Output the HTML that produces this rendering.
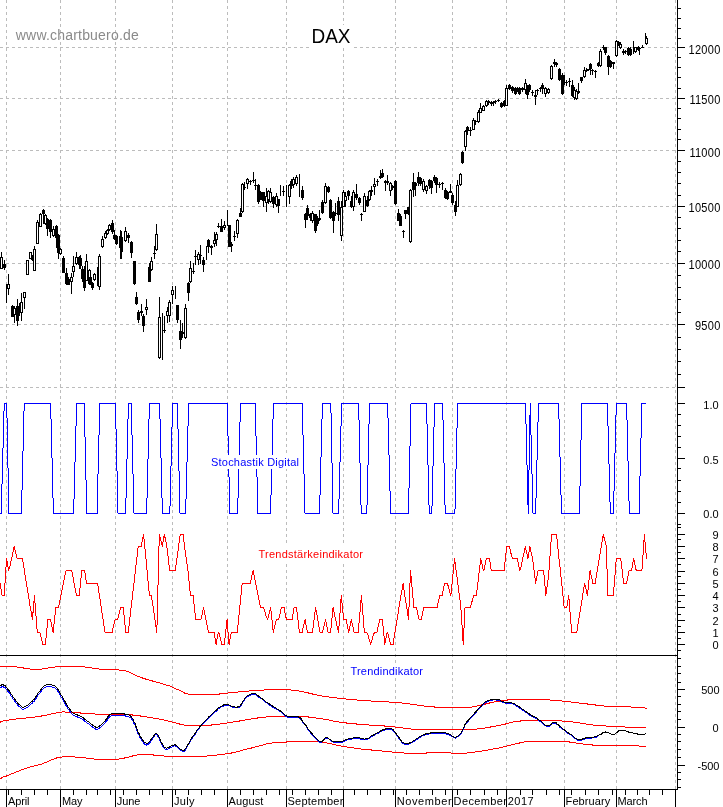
<!DOCTYPE html>
<html lang="de">
<head>
<meta charset="utf-8">
<title>DAX - www.chartbuero.de</title>
<style>
html, body { margin: 0; padding: 0; background: #ffffff; }
body { width: 723px; height: 807px; overflow: hidden; font-family: "Liberation Sans", Arial, sans-serif; }
svg { display: block; }
text { font-family: "Liberation Sans", Arial, sans-serif; }
</style>
</head>
<body>
<svg width="723" height="807" viewBox="0 0 723 807">
<rect x="0" y="0" width="723" height="807" fill="#ffffff"/>
<g class="grid" stroke-width="1" shape-rendering="crispEdges" fill="none">
<line x1="6.5" y1="0" x2="6.5" y2="789" stroke="#bcbcbc" stroke-dasharray="3 3"/>
<line x1="60.5" y1="0" x2="60.5" y2="789" stroke="#bcbcbc" stroke-dasharray="3 3"/>
<line x1="115.5" y1="0" x2="115.5" y2="789" stroke="#bcbcbc" stroke-dasharray="3 3"/>
<line x1="172.5" y1="0" x2="172.5" y2="789" stroke="#bcbcbc" stroke-dasharray="3 3"/>
<line x1="227.5" y1="0" x2="227.5" y2="789" stroke="#bcbcbc" stroke-dasharray="3 3"/>
<line x1="286.5" y1="0" x2="286.5" y2="789" stroke="#bcbcbc" stroke-dasharray="3 3"/>
<line x1="343.5" y1="0" x2="343.5" y2="789" stroke="#bcbcbc" stroke-dasharray="3 3"/>
<line x1="395.5" y1="0" x2="395.5" y2="789" stroke="#bcbcbc" stroke-dasharray="3 3"/>
<line x1="452.5" y1="0" x2="452.5" y2="789" stroke="#bcbcbc" stroke-dasharray="3 3"/>
<line x1="506.5" y1="0" x2="506.5" y2="789" stroke="#bcbcbc" stroke-dasharray="3 3"/>
<line x1="564.5" y1="0" x2="564.5" y2="789" stroke="#bcbcbc" stroke-dasharray="3 3"/>
<line x1="616.5" y1="0" x2="616.5" y2="789" stroke="#bcbcbc" stroke-dasharray="3 3"/>
<line x1="675.5" y1="0" x2="675.5" y2="789" stroke="#bcbcbc" stroke-dasharray="3 3"/>
<line x1="0" y1="47.5" x2="677" y2="47.5" stroke="#bcbcbc" stroke-dasharray="3 3"/>
<line x1="0" y1="98.5" x2="677" y2="98.5" stroke="#bcbcbc" stroke-dasharray="3 3"/>
<line x1="0" y1="150.5" x2="677" y2="150.5" stroke="#bcbcbc" stroke-dasharray="3 3"/>
<line x1="0" y1="206.5" x2="677" y2="206.5" stroke="#bcbcbc" stroke-dasharray="3 3"/>
<line x1="0" y1="263.5" x2="677" y2="263.5" stroke="#bcbcbc" stroke-dasharray="3 3"/>
<line x1="0" y1="324.5" x2="677" y2="324.5" stroke="#bcbcbc" stroke-dasharray="3 3"/>
<line x1="0" y1="387.5" x2="677" y2="387.5" stroke="#bcbcbc" stroke-dasharray="3 3"/>
</g>
<g class="candles" shape-rendering="crispEdges" stroke="#000" stroke-width="1">
<line x1="1.5" y1="252" x2="1.5" y2="269"/>
<rect x="0.5" y="257.5" width="2" height="11" fill="#fff"/>
<line x1="4.5" y1="260" x2="4.5" y2="270"/>
<rect x="3.5" y="264.5" width="2" height="3" fill="#000"/>
<line x1="6.5" y1="284" x2="6.5" y2="303"/>
<line x1="8.5" y1="274" x2="8.5" y2="295"/>
<rect x="7.5" y="284.5" width="2" height="4" fill="#fff"/>
<line x1="12.5" y1="305" x2="12.5" y2="317"/>
<rect x="11.5" y="306.5" width="2" height="10" fill="#000"/>
<line x1="14.5" y1="306" x2="14.5" y2="323"/>
<rect x="13.5" y="308.5" width="2" height="6" fill="#fff"/>
<line x1="17.5" y1="299" x2="17.5" y2="326"/>
<rect x="16.5" y="306.5" width="2" height="14" fill="#000"/>
<line x1="19.5" y1="303" x2="19.5" y2="316"/>
<rect x="18.5" y="307.5" width="2" height="5" fill="#000"/>
<line x1="21.5" y1="293" x2="21.5" y2="321"/>
<rect x="20.5" y="302.5" width="2" height="10" fill="#fff"/>
<line x1="24.5" y1="292" x2="24.5" y2="309"/>
<rect x="23.5" y="292.5" width="2" height="5" fill="#fff"/>
<line x1="27.5" y1="260" x2="27.5" y2="275"/>
<rect x="26.5" y="260.5" width="2" height="14" fill="#fff"/>
<line x1="30.5" y1="252" x2="30.5" y2="259"/>
<rect x="29.5" y="252.5" width="2" height="6" fill="#fff"/>
<line x1="32.5" y1="255" x2="32.5" y2="261"/>
<rect x="31.5" y="255.5" width="2" height="4" fill="#000"/>
<line x1="34.5" y1="246" x2="34.5" y2="271"/>
<rect x="33.5" y="249.5" width="2" height="21" fill="#fff"/>
<line x1="37.5" y1="220" x2="37.5" y2="244"/>
<rect x="36.5" y="222.5" width="2" height="21" fill="#fff"/>
<line x1="40.5" y1="213" x2="40.5" y2="227"/>
<rect x="39.5" y="214.5" width="2" height="12" fill="#fff"/>
<line x1="43.5" y1="209" x2="43.5" y2="224"/>
<rect x="42.5" y="210.5" width="2" height="3" fill="#000"/>
<line x1="45.5" y1="214" x2="45.5" y2="225"/>
<rect x="44.5" y="215.5" width="2" height="8" fill="#fff"/>
<line x1="47.5" y1="218" x2="47.5" y2="236"/>
<rect x="46.5" y="219.5" width="2" height="9" fill="#000"/>
<line x1="50.5" y1="219" x2="50.5" y2="238"/>
<rect x="49.5" y="220.5" width="2" height="11" fill="#000"/>
<line x1="53.5" y1="226" x2="53.5" y2="237"/>
<rect x="52.5" y="229.5" width="2" height="6" fill="#fff"/>
<line x1="56.5" y1="225" x2="56.5" y2="248"/>
<rect x="55.5" y="226.5" width="2" height="11" fill="#000"/>
<line x1="58.5" y1="234" x2="58.5" y2="259"/>
<rect x="57.5" y="235.5" width="2" height="17" fill="#000"/>
<line x1="60.5" y1="248" x2="60.5" y2="255"/>
<rect x="59.5" y="249.5" width="2" height="4" fill="#fff"/>
<line x1="63.5" y1="256" x2="63.5" y2="273"/>
<rect x="62.5" y="258.5" width="2" height="14" fill="#000"/>
<line x1="66.5" y1="268" x2="66.5" y2="285"/>
<rect x="65.5" y="273.5" width="2" height="10" fill="#000"/>
<line x1="68.5" y1="277" x2="68.5" y2="285"/>
<rect x="67.5" y="279.5" width="2" height="5" fill="#000"/>
<line x1="71.5" y1="273" x2="71.5" y2="294"/>
<rect x="70.5" y="277.5" width="2" height="4" fill="#fff"/>
<line x1="73.5" y1="256" x2="73.5" y2="277"/>
<rect x="72.5" y="266.5" width="2" height="5" fill="#fff"/>
<line x1="76.5" y1="252" x2="76.5" y2="265"/>
<rect x="75.5" y="257.5" width="2" height="6" fill="#fff"/>
<line x1="79.5" y1="256" x2="79.5" y2="269"/>
<rect x="78.5" y="257.5" width="2" height="7" fill="#000"/>
<line x1="80.5" y1="255" x2="80.5" y2="269"/>
<rect x="79.5" y="258.5" width="2" height="7" fill="#000"/>
<line x1="82.5" y1="266" x2="82.5" y2="282"/>
<rect x="81.5" y="269.5" width="2" height="9" fill="#000"/>
<line x1="84.5" y1="266" x2="84.5" y2="291"/>
<rect x="83.5" y="274.5" width="2" height="13" fill="#000"/>
<line x1="86.5" y1="254" x2="86.5" y2="281"/>
<rect x="85.5" y="261.5" width="2" height="19" fill="#fff"/>
<line x1="89.5" y1="269" x2="89.5" y2="285"/>
<rect x="88.5" y="270.5" width="2" height="13" fill="#fff"/>
<line x1="90.5" y1="276" x2="90.5" y2="285"/>
<rect x="89.5" y="277.5" width="2" height="6" fill="#000"/>
<line x1="92.5" y1="282" x2="92.5" y2="290"/>
<rect x="91.5" y="283.5" width="2" height="4" fill="#000"/>
<line x1="94.5" y1="273" x2="94.5" y2="281"/>
<rect x="93.5" y="274.5" width="2" height="5" fill="#fff"/>
<line x1="97.5" y1="267" x2="97.5" y2="286"/>
<line x1="99.5" y1="254" x2="99.5" y2="290"/>
<rect x="98.5" y="256.5" width="2" height="30" fill="#fff"/>
<line x1="102.5" y1="236" x2="102.5" y2="248"/>
<rect x="101.5" y="239.5" width="2" height="7" fill="#fff"/>
<line x1="105.5" y1="231" x2="105.5" y2="239"/>
<rect x="104.5" y="233.5" width="2" height="4" fill="#fff"/>
<line x1="107.5" y1="229" x2="107.5" y2="235"/>
<rect x="106.5" y="230.5" width="2" height="3" fill="#fff"/>
<line x1="109.5" y1="224" x2="109.5" y2="231"/>
<rect x="108.5" y="225.5" width="2" height="4" fill="#fff"/>
<line x1="112.5" y1="220" x2="112.5" y2="234"/>
<rect x="111.5" y="223.5" width="2" height="8" fill="#000"/>
<line x1="114.5" y1="230" x2="114.5" y2="240"/>
<rect x="113.5" y="235.5" width="2" height="3" fill="#000"/>
<line x1="116.5" y1="235" x2="116.5" y2="245"/>
<rect x="115.5" y="236.5" width="2" height="7" fill="#000"/>
<line x1="120.5" y1="230" x2="120.5" y2="259"/>
<rect x="119.5" y="236.5" width="2" height="11" fill="#000"/>
<line x1="121.5" y1="231" x2="121.5" y2="259"/>
<rect x="120.5" y="237.5" width="2" height="14" fill="#000"/>
<line x1="125.5" y1="227" x2="125.5" y2="242"/>
<rect x="124.5" y="231.5" width="2" height="9" fill="#fff"/>
<line x1="128.5" y1="233" x2="128.5" y2="243"/>
<rect x="127.5" y="235.5" width="2" height="2" fill="#000"/>
<line x1="131.5" y1="241" x2="131.5" y2="258"/>
<rect x="130.5" y="242.5" width="2" height="10" fill="#000"/>
<line x1="134.5" y1="261" x2="134.5" y2="285"/>
<rect x="133.5" y="261.5" width="2" height="22" fill="#000"/>
<line x1="136.5" y1="292" x2="136.5" y2="305"/>
<rect x="135.5" y="297.5" width="2" height="6" fill="#000"/>
<line x1="138.5" y1="310" x2="138.5" y2="323"/>
<rect x="137.5" y="312.5" width="2" height="7" fill="#000"/>
<line x1="141.5" y1="304" x2="141.5" y2="316"/>
<rect x="140.5" y="311.5" width="2" height="1" fill="#fff"/>
<line x1="143.5" y1="314" x2="143.5" y2="332"/>
<rect x="142.5" y="316.5" width="2" height="9" fill="#000"/>
<line x1="146.5" y1="299" x2="146.5" y2="315"/>
<rect x="145.5" y="307.5" width="2" height="2" fill="#fff"/>
<line x1="149.5" y1="263" x2="149.5" y2="282"/>
<rect x="148.5" y="267.5" width="2" height="14" fill="#000"/>
<line x1="151.5" y1="257" x2="151.5" y2="271"/>
<rect x="150.5" y="261.5" width="2" height="8" fill="#fff"/>
<line x1="154.5" y1="246" x2="154.5" y2="259"/>
<rect x="153.5" y="253.5" width="2" height="0.01" fill="#000"/>
<line x1="156.5" y1="224" x2="156.5" y2="251"/>
<rect x="155.5" y="234.5" width="2" height="15" fill="#fff"/>
<line x1="159.5" y1="297" x2="159.5" y2="359"/>
<rect x="158.5" y="317.5" width="2" height="40" fill="#fff"/>
<line x1="162.5" y1="313" x2="162.5" y2="360"/>
<line x1="164.5" y1="316" x2="164.5" y2="333"/>
<rect x="163.5" y="330.5" width="2" height="0.01" fill="#000"/>
<line x1="167.5" y1="307" x2="167.5" y2="323"/>
<rect x="166.5" y="311.5" width="2" height="4" fill="#fff"/>
<line x1="169.5" y1="300" x2="169.5" y2="322"/>
<rect x="168.5" y="302.5" width="2" height="13" fill="#fff"/>
<line x1="172.5" y1="286" x2="172.5" y2="304"/>
<rect x="171.5" y="290.5" width="2" height="4" fill="#fff"/>
<line x1="175.5" y1="286" x2="175.5" y2="299"/>
<line x1="177.5" y1="305" x2="177.5" y2="323"/>
<rect x="176.5" y="305.5" width="2" height="14" fill="#000"/>
<line x1="180.5" y1="320" x2="180.5" y2="349"/>
<rect x="179.5" y="331.5" width="2" height="8" fill="#000"/>
<line x1="182.5" y1="323" x2="182.5" y2="338"/>
<rect x="181.5" y="332.5" width="2" height="1" fill="#000"/>
<line x1="185.5" y1="304" x2="185.5" y2="339"/>
<rect x="184.5" y="308.5" width="2" height="29" fill="#fff"/>
<line x1="188.5" y1="282" x2="188.5" y2="301"/>
<rect x="187.5" y="283.5" width="2" height="9" fill="#000"/>
<line x1="190.5" y1="261" x2="190.5" y2="283"/>
<rect x="189.5" y="268.5" width="2" height="13" fill="#fff"/>
<line x1="193.5" y1="263" x2="193.5" y2="274"/>
<rect x="192.5" y="271.5" width="2" height="0.01" fill="#000"/>
<line x1="195.5" y1="250" x2="195.5" y2="265"/>
<rect x="194.5" y="256.5" width="2" height="0.01" fill="#000"/>
<line x1="198.5" y1="252" x2="198.5" y2="265"/>
<rect x="197.5" y="254.5" width="2" height="5" fill="#fff"/>
<line x1="200.5" y1="245" x2="200.5" y2="264"/>
<rect x="199.5" y="255.5" width="2" height="0.01" fill="#000"/>
<line x1="203.5" y1="257" x2="203.5" y2="272"/>
<rect x="202.5" y="260.5" width="2" height="4" fill="#000"/>
<line x1="206.5" y1="246" x2="206.5" y2="260"/>
<line x1="208.5" y1="239" x2="208.5" y2="253"/>
<rect x="207.5" y="240.5" width="2" height="6" fill="#000"/>
<line x1="211.5" y1="245" x2="211.5" y2="255"/>
<rect x="210.5" y="246.5" width="2" height="1" fill="#fff"/>
<line x1="214.5" y1="232" x2="214.5" y2="247"/>
<rect x="213.5" y="240.5" width="2" height="3" fill="#fff"/>
<line x1="216.5" y1="232" x2="216.5" y2="246"/>
<rect x="215.5" y="234.5" width="2" height="5" fill="#fff"/>
<line x1="218.5" y1="223" x2="218.5" y2="228"/>
<rect x="217.5" y="226.5" width="2" height="0.01" fill="#000"/>
<line x1="221.5" y1="219" x2="221.5" y2="232"/>
<rect x="220.5" y="226.5" width="2" height="5" fill="#000"/>
<line x1="224.5" y1="221" x2="224.5" y2="230"/>
<rect x="223.5" y="225.5" width="2" height="2" fill="#fff"/>
<line x1="227.5" y1="210" x2="227.5" y2="226"/>
<line x1="229.5" y1="225" x2="229.5" y2="247"/>
<rect x="228.5" y="225.5" width="2" height="21" fill="#000"/>
<line x1="231.5" y1="242" x2="231.5" y2="252"/>
<rect x="230.5" y="244.5" width="2" height="1" fill="#fff"/>
<line x1="234.5" y1="231" x2="234.5" y2="241"/>
<rect x="233.5" y="236.5" width="2" height="0.01" fill="#000"/>
<line x1="237.5" y1="219" x2="237.5" y2="238"/>
<rect x="236.5" y="220.5" width="2" height="13" fill="#fff"/>
<line x1="240.5" y1="208" x2="240.5" y2="217"/>
<rect x="239.5" y="213.5" width="2" height="3" fill="#000"/>
<line x1="242.5" y1="183" x2="242.5" y2="213"/>
<rect x="241.5" y="184.5" width="2" height="27" fill="#fff"/>
<line x1="244.5" y1="182" x2="244.5" y2="190"/>
<rect x="243.5" y="187.5" width="2" height="0.01" fill="#000"/>
<line x1="247.5" y1="178" x2="247.5" y2="189"/>
<rect x="246.5" y="179.5" width="2" height="4" fill="#fff"/>
<line x1="250.5" y1="180" x2="250.5" y2="185"/>
<rect x="249.5" y="181.5" width="2" height="0.01" fill="#000"/>
<line x1="253.5" y1="172" x2="253.5" y2="183"/>
<rect x="252.5" y="180.5" width="2" height="0.01" fill="#000"/>
<line x1="255.5" y1="179" x2="255.5" y2="190"/>
<rect x="254.5" y="185.5" width="2" height="0.01" fill="#000"/>
<line x1="258.5" y1="184" x2="258.5" y2="204"/>
<rect x="257.5" y="185.5" width="2" height="16" fill="#000"/>
<line x1="260.5" y1="191" x2="260.5" y2="200"/>
<rect x="259.5" y="192.5" width="2" height="7" fill="#000"/>
<line x1="263.5" y1="192" x2="263.5" y2="207"/>
<rect x="262.5" y="192.5" width="2" height="8" fill="#000"/>
<line x1="266.5" y1="188" x2="266.5" y2="212"/>
<rect x="265.5" y="196.5" width="2" height="6" fill="#fff"/>
<line x1="268.5" y1="190" x2="268.5" y2="204"/>
<rect x="267.5" y="191.5" width="2" height="8" fill="#fff"/>
<line x1="270.5" y1="188" x2="270.5" y2="203"/>
<rect x="269.5" y="192.5" width="2" height="9" fill="#fff"/>
<line x1="273.5" y1="196" x2="273.5" y2="208"/>
<rect x="272.5" y="197.5" width="2" height="6" fill="#000"/>
<line x1="276.5" y1="193" x2="276.5" y2="207"/>
<rect x="275.5" y="196.5" width="2" height="8" fill="#fff"/>
<line x1="278.5" y1="199" x2="278.5" y2="213"/>
<rect x="277.5" y="199.5" width="2" height="6" fill="#000"/>
<line x1="280.5" y1="185" x2="280.5" y2="196"/>
<line x1="283.5" y1="186" x2="283.5" y2="196"/>
<rect x="282.5" y="191.5" width="2" height="0.01" fill="#000"/>
<line x1="286.5" y1="185" x2="286.5" y2="207"/>
<line x1="289.5" y1="184" x2="289.5" y2="204"/>
<rect x="288.5" y="185.5" width="2" height="11" fill="#fff"/>
<line x1="291.5" y1="179" x2="291.5" y2="189"/>
<rect x="290.5" y="181.5" width="2" height="4" fill="#000"/>
<line x1="293.5" y1="177" x2="293.5" y2="188"/>
<rect x="292.5" y="179.5" width="2" height="5" fill="#fff"/>
<line x1="296.5" y1="175" x2="296.5" y2="186"/>
<rect x="295.5" y="177.5" width="2" height="6" fill="#fff"/>
<line x1="299.5" y1="174" x2="299.5" y2="197"/>
<line x1="302.5" y1="186" x2="302.5" y2="200"/>
<rect x="301.5" y="190.5" width="2" height="7" fill="#000"/>
<line x1="305.5" y1="213" x2="305.5" y2="228"/>
<rect x="304.5" y="214.5" width="2" height="5" fill="#000"/>
<line x1="307.5" y1="205" x2="307.5" y2="220"/>
<rect x="306.5" y="208.5" width="2" height="7" fill="#000"/>
<line x1="310.5" y1="213" x2="310.5" y2="221"/>
<rect x="309.5" y="214.5" width="2" height="3" fill="#000"/>
<line x1="312.5" y1="211" x2="312.5" y2="223"/>
<rect x="311.5" y="213.5" width="2" height="7" fill="#fff"/>
<line x1="315.5" y1="214" x2="315.5" y2="233"/>
<rect x="314.5" y="214.5" width="2" height="16" fill="#000"/>
<line x1="317.5" y1="216" x2="317.5" y2="226"/>
<rect x="316.5" y="218.5" width="2" height="5" fill="#000"/>
<line x1="319.5" y1="210" x2="319.5" y2="221"/>
<rect x="318.5" y="218.5" width="2" height="1" fill="#000"/>
<line x1="322.5" y1="200" x2="322.5" y2="214"/>
<rect x="321.5" y="202.5" width="2" height="10" fill="#000"/>
<line x1="325.5" y1="183" x2="325.5" y2="204"/>
<rect x="324.5" y="186.5" width="2" height="16" fill="#fff"/>
<line x1="328.5" y1="186" x2="328.5" y2="193"/>
<rect x="327.5" y="187.5" width="2" height="4" fill="#000"/>
<line x1="330.5" y1="199" x2="330.5" y2="219"/>
<rect x="329.5" y="200.5" width="2" height="17" fill="#000"/>
<line x1="333.5" y1="211" x2="333.5" y2="233"/>
<rect x="332.5" y="212.5" width="2" height="8" fill="#000"/>
<line x1="335.5" y1="203" x2="335.5" y2="216"/>
<rect x="334.5" y="213.5" width="2" height="0.01" fill="#fff"/>
<line x1="338.5" y1="197" x2="338.5" y2="221"/>
<rect x="337.5" y="201.5" width="2" height="13" fill="#000"/>
<line x1="341.5" y1="201" x2="341.5" y2="241"/>
<rect x="340.5" y="207.5" width="2" height="28" fill="#fff"/>
<line x1="343.5" y1="190" x2="343.5" y2="207"/>
<rect x="342.5" y="192.5" width="2" height="14" fill="#fff"/>
<line x1="345.5" y1="192" x2="345.5" y2="207"/>
<rect x="344.5" y="196.5" width="2" height="4" fill="#fff"/>
<line x1="348.5" y1="190" x2="348.5" y2="200"/>
<rect x="347.5" y="191.5" width="2" height="4" fill="#000"/>
<line x1="351.5" y1="196" x2="351.5" y2="208"/>
<rect x="350.5" y="201.5" width="2" height="5" fill="#000"/>
<line x1="353.5" y1="190" x2="353.5" y2="211"/>
<rect x="352.5" y="192.5" width="2" height="14" fill="#fff"/>
<line x1="356.5" y1="184" x2="356.5" y2="200"/>
<rect x="355.5" y="194.5" width="2" height="3" fill="#000"/>
<line x1="359.5" y1="197" x2="359.5" y2="205"/>
<rect x="358.5" y="198.5" width="2" height="4" fill="#000"/>
<line x1="361.5" y1="213" x2="361.5" y2="221"/>
<rect x="360.5" y="214.5" width="2" height="0.01" fill="#000"/>
<line x1="364.5" y1="193" x2="364.5" y2="212"/>
<rect x="363.5" y="196.5" width="2" height="15" fill="#fff"/>
<line x1="367.5" y1="196" x2="367.5" y2="207"/>
<rect x="366.5" y="200.5" width="2" height="5" fill="#000"/>
<line x1="369.5" y1="190" x2="369.5" y2="201"/>
<rect x="368.5" y="191.5" width="2" height="8" fill="#fff"/>
<line x1="371.5" y1="186" x2="371.5" y2="196"/>
<rect x="370.5" y="190.5" width="2" height="1" fill="#fff"/>
<line x1="374.5" y1="178" x2="374.5" y2="195"/>
<rect x="373.5" y="184.5" width="2" height="2" fill="#fff"/>
<line x1="377.5" y1="179" x2="377.5" y2="186"/>
<rect x="376.5" y="181.5" width="2" height="0.01" fill="#000"/>
<line x1="380.5" y1="170" x2="380.5" y2="179"/>
<rect x="379.5" y="176.5" width="2" height="1" fill="#000"/>
<line x1="382.5" y1="169" x2="382.5" y2="178"/>
<rect x="381.5" y="173.5" width="2" height="3" fill="#000"/>
<line x1="385.5" y1="180" x2="385.5" y2="191"/>
<rect x="384.5" y="181.5" width="2" height="1" fill="#000"/>
<line x1="387.5" y1="175" x2="387.5" y2="185"/>
<rect x="386.5" y="181.5" width="2" height="1" fill="#fff"/>
<line x1="390.5" y1="182" x2="390.5" y2="196"/>
<rect x="389.5" y="183.5" width="2" height="7" fill="#fff"/>
<line x1="392.5" y1="185" x2="392.5" y2="190"/>
<rect x="391.5" y="186.5" width="2" height="1" fill="#000"/>
<line x1="395.5" y1="180" x2="395.5" y2="205"/>
<rect x="394.5" y="181.5" width="2" height="22" fill="#000"/>
<line x1="398.5" y1="209" x2="398.5" y2="221"/>
<rect x="397.5" y="213.5" width="2" height="7" fill="#000"/>
<line x1="400.5" y1="214" x2="400.5" y2="226"/>
<rect x="399.5" y="216.5" width="2" height="9" fill="#000"/>
<line x1="403.5" y1="230" x2="403.5" y2="238"/>
<rect x="402.5" y="231.5" width="2" height="0.01" fill="#000"/>
<line x1="405.5" y1="210" x2="405.5" y2="219"/>
<rect x="404.5" y="210.5" width="2" height="3" fill="#000"/>
<line x1="408.5" y1="207" x2="408.5" y2="215"/>
<rect x="407.5" y="207.5" width="2" height="6" fill="#000"/>
<line x1="410.5" y1="189" x2="410.5" y2="243"/>
<rect x="409.5" y="190.5" width="2" height="51" fill="#fff"/>
<line x1="413.5" y1="173" x2="413.5" y2="197"/>
<rect x="412.5" y="182.5" width="2" height="7" fill="#000"/>
<line x1="415.5" y1="182" x2="415.5" y2="196"/>
<rect x="414.5" y="183.5" width="2" height="2" fill="#000"/>
<line x1="418.5" y1="172" x2="418.5" y2="186"/>
<rect x="417.5" y="177.5" width="2" height="5" fill="#000"/>
<line x1="420.5" y1="177" x2="420.5" y2="186"/>
<rect x="419.5" y="178.5" width="2" height="5" fill="#000"/>
<line x1="423.5" y1="179" x2="423.5" y2="192"/>
<rect x="422.5" y="181.5" width="2" height="8" fill="#fff"/>
<line x1="426.5" y1="185" x2="426.5" y2="194"/>
<rect x="425.5" y="186.5" width="2" height="4" fill="#fff"/>
<line x1="429.5" y1="179" x2="429.5" y2="189"/>
<rect x="428.5" y="180.5" width="2" height="5" fill="#000"/>
<line x1="431.5" y1="180" x2="431.5" y2="194"/>
<rect x="430.5" y="181.5" width="2" height="6" fill="#000"/>
<line x1="434.5" y1="175" x2="434.5" y2="183"/>
<rect x="433.5" y="177.5" width="2" height="3" fill="#000"/>
<line x1="436.5" y1="177" x2="436.5" y2="193"/>
<rect x="435.5" y="178.5" width="2" height="6" fill="#000"/>
<line x1="439.5" y1="182" x2="439.5" y2="188"/>
<rect x="438.5" y="184.5" width="2" height="0.01" fill="#000"/>
<line x1="442.5" y1="182" x2="442.5" y2="190"/>
<rect x="441.5" y="183.5" width="2" height="0.01" fill="#000"/>
<line x1="445.5" y1="188" x2="445.5" y2="199"/>
<rect x="444.5" y="190.5" width="2" height="7" fill="#000"/>
<line x1="447.5" y1="191" x2="447.5" y2="200"/>
<rect x="446.5" y="192.5" width="2" height="6" fill="#000"/>
<line x1="450.5" y1="184" x2="450.5" y2="193"/>
<rect x="449.5" y="191.5" width="2" height="1" fill="#000"/>
<line x1="452.5" y1="193" x2="452.5" y2="205"/>
<rect x="451.5" y="195.5" width="2" height="7" fill="#000"/>
<line x1="455.5" y1="201" x2="455.5" y2="216"/>
<rect x="454.5" y="205.5" width="2" height="6" fill="#000"/>
<line x1="457.5" y1="180" x2="457.5" y2="207"/>
<rect x="456.5" y="185.5" width="2" height="21" fill="#fff"/>
<line x1="460.5" y1="173" x2="460.5" y2="186"/>
<rect x="459.5" y="174.5" width="2" height="10" fill="#fff"/>
<line x1="462.5" y1="151" x2="462.5" y2="164"/>
<rect x="461.5" y="152.5" width="2" height="10" fill="#000"/>
<line x1="465.5" y1="130" x2="465.5" y2="151"/>
<rect x="464.5" y="131.5" width="2" height="15" fill="#fff"/>
<line x1="467.5" y1="126" x2="467.5" y2="135"/>
<rect x="466.5" y="127.5" width="2" height="3" fill="#000"/>
<line x1="470.5" y1="127" x2="470.5" y2="136"/>
<rect x="469.5" y="130.5" width="2" height="0.01" fill="#000"/>
<line x1="473.5" y1="118" x2="473.5" y2="130"/>
<rect x="472.5" y="120.5" width="2" height="9" fill="#fff"/>
<line x1="475.5" y1="120" x2="475.5" y2="125"/>
<rect x="474.5" y="121.5" width="2" height="0.01" fill="#000"/>
<line x1="478.5" y1="110" x2="478.5" y2="123"/>
<rect x="477.5" y="112.5" width="2" height="9" fill="#fff"/>
<line x1="480.5" y1="103" x2="480.5" y2="113"/>
<rect x="479.5" y="108.5" width="2" height="4" fill="#fff"/>
<line x1="483.5" y1="105" x2="483.5" y2="111"/>
<rect x="482.5" y="106.5" width="2" height="4" fill="#fff"/>
<line x1="486.5" y1="100" x2="486.5" y2="107"/>
<rect x="485.5" y="101.5" width="2" height="4" fill="#fff"/>
<line x1="488.5" y1="100" x2="488.5" y2="105"/>
<rect x="487.5" y="101.5" width="2" height="1" fill="#000"/>
<line x1="491.5" y1="101" x2="491.5" y2="106"/>
<rect x="490.5" y="102.5" width="2" height="1" fill="#fff"/>
<line x1="493.5" y1="101" x2="493.5" y2="106"/>
<rect x="492.5" y="102.5" width="2" height="0.01" fill="#000"/>
<line x1="495.5" y1="100" x2="495.5" y2="104"/>
<rect x="494.5" y="101.5" width="2" height="0.01" fill="#000"/>
<line x1="498.5" y1="99" x2="498.5" y2="102"/>
<rect x="497.5" y="100.5" width="2" height="0.01" fill="#fff"/>
<line x1="501.5" y1="102" x2="501.5" y2="108"/>
<rect x="500.5" y="103.5" width="2" height="3" fill="#000"/>
<line x1="504.5" y1="100" x2="504.5" y2="107"/>
<rect x="503.5" y="101.5" width="2" height="4" fill="#000"/>
<line x1="506.5" y1="85" x2="506.5" y2="106"/>
<rect x="505.5" y="88.5" width="2" height="17" fill="#fff"/>
<line x1="509.5" y1="84" x2="509.5" y2="90"/>
<rect x="508.5" y="85.5" width="2" height="3" fill="#000"/>
<line x1="512.5" y1="86" x2="512.5" y2="93"/>
<rect x="511.5" y="87.5" width="2" height="3" fill="#000"/>
<line x1="515.5" y1="87" x2="515.5" y2="95"/>
<rect x="514.5" y="88.5" width="2" height="5" fill="#000"/>
<line x1="517.5" y1="87" x2="517.5" y2="92"/>
<rect x="516.5" y="88.5" width="2" height="0.01" fill="#000"/>
<line x1="519.5" y1="87" x2="519.5" y2="95"/>
<rect x="518.5" y="88.5" width="2" height="5" fill="#000"/>
<line x1="522.5" y1="87" x2="522.5" y2="92"/>
<rect x="521.5" y="88.5" width="2" height="1" fill="#000"/>
<line x1="525.5" y1="79" x2="525.5" y2="94"/>
<rect x="524.5" y="83.5" width="2" height="6" fill="#fff"/>
<line x1="527.5" y1="85" x2="527.5" y2="99"/>
<rect x="526.5" y="87.5" width="2" height="7" fill="#000"/>
<line x1="529.5" y1="84" x2="529.5" y2="92"/>
<rect x="528.5" y="85.5" width="2" height="4" fill="#000"/>
<line x1="532.5" y1="90" x2="532.5" y2="96"/>
<rect x="531.5" y="92.5" width="2" height="0.01" fill="#000"/>
<line x1="535.5" y1="90" x2="535.5" y2="105"/>
<rect x="534.5" y="95.5" width="2" height="1" fill="#fff"/>
<line x1="537.5" y1="89" x2="537.5" y2="95"/>
<rect x="536.5" y="90.5" width="2" height="0.01" fill="#000"/>
<line x1="540.5" y1="87" x2="540.5" y2="92"/>
<rect x="539.5" y="88.5" width="2" height="0.01" fill="#000"/>
<line x1="542.5" y1="83" x2="542.5" y2="94"/>
<rect x="541.5" y="85.5" width="2" height="3" fill="#000"/>
<line x1="545.5" y1="87" x2="545.5" y2="97"/>
<rect x="544.5" y="88.5" width="2" height="5" fill="#fff"/>
<line x1="548.5" y1="88" x2="548.5" y2="94"/>
<rect x="547.5" y="89.5" width="2" height="3" fill="#fff"/>
<line x1="551.5" y1="65" x2="551.5" y2="80"/>
<rect x="550.5" y="66.5" width="2" height="12" fill="#fff"/>
<line x1="554.5" y1="59" x2="554.5" y2="67"/>
<rect x="553.5" y="62.5" width="2" height="1" fill="#000"/>
<line x1="556.5" y1="62" x2="556.5" y2="67"/>
<rect x="555.5" y="63.5" width="2" height="1" fill="#000"/>
<line x1="559.5" y1="68" x2="559.5" y2="81"/>
<rect x="558.5" y="69.5" width="2" height="10" fill="#000"/>
<line x1="562.5" y1="73" x2="562.5" y2="95"/>
<rect x="561.5" y="75.5" width="2" height="18" fill="#000"/>
<line x1="564.5" y1="75" x2="564.5" y2="85"/>
<rect x="563.5" y="82.5" width="2" height="0.01" fill="#000"/>
<line x1="566.5" y1="80" x2="566.5" y2="86"/>
<rect x="565.5" y="82.5" width="2" height="0.01" fill="#fff"/>
<line x1="569.5" y1="78" x2="569.5" y2="87"/>
<rect x="568.5" y="81.5" width="2" height="0.01" fill="#fff"/>
<line x1="572.5" y1="80" x2="572.5" y2="97"/>
<rect x="571.5" y="85.5" width="2" height="10" fill="#000"/>
<line x1="574.5" y1="87" x2="574.5" y2="100"/>
<rect x="573.5" y="90.5" width="2" height="7" fill="#fff"/>
<line x1="576.5" y1="89" x2="576.5" y2="100"/>
<rect x="575.5" y="91.5" width="2" height="7" fill="#fff"/>
<line x1="578.5" y1="83" x2="578.5" y2="94"/>
<rect x="577.5" y="91.5" width="2" height="1" fill="#000"/>
<line x1="581.5" y1="77" x2="581.5" y2="83"/>
<rect x="580.5" y="77.5" width="2" height="3" fill="#000"/>
<line x1="584.5" y1="67" x2="584.5" y2="78"/>
<rect x="583.5" y="70.5" width="2" height="6" fill="#fff"/>
<line x1="586.5" y1="68" x2="586.5" y2="72"/>
<rect x="585.5" y="70.5" width="2" height="0.01" fill="#000"/>
<line x1="588.5" y1="69" x2="588.5" y2="71"/>
<rect x="587.5" y="69.5" width="2" height="0.01" fill="#fff"/>
<line x1="590.5" y1="63" x2="590.5" y2="75"/>
<rect x="589.5" y="64.5" width="2" height="4" fill="#000"/>
<line x1="592.5" y1="69" x2="592.5" y2="75"/>
<rect x="591.5" y="70.5" width="2" height="0.01" fill="#000"/>
<line x1="595.5" y1="70" x2="595.5" y2="78"/>
<rect x="594.5" y="71.5" width="2" height="0.01" fill="#000"/>
<line x1="598.5" y1="62" x2="598.5" y2="67"/>
<rect x="597.5" y="63.5" width="2" height="2" fill="#000"/>
<line x1="600.5" y1="49" x2="600.5" y2="67"/>
<rect x="599.5" y="51.5" width="2" height="14" fill="#fff"/>
<line x1="603.5" y1="45" x2="603.5" y2="50"/>
<rect x="602.5" y="47.5" width="2" height="0.01" fill="#000"/>
<line x1="605.5" y1="47" x2="605.5" y2="55"/>
<rect x="604.5" y="47.5" width="2" height="5" fill="#000"/>
<line x1="608.5" y1="55" x2="608.5" y2="75"/>
<rect x="607.5" y="56.5" width="2" height="10" fill="#000"/>
<line x1="610.5" y1="60" x2="610.5" y2="68"/>
<rect x="609.5" y="61.5" width="2" height="5" fill="#000"/>
<line x1="613.5" y1="62" x2="613.5" y2="69"/>
<rect x="612.5" y="62.5" width="2" height="1" fill="#000"/>
<line x1="616.5" y1="40" x2="616.5" y2="57"/>
<rect x="615.5" y="41.5" width="2" height="14" fill="#fff"/>
<line x1="618.5" y1="41" x2="618.5" y2="46"/>
<rect x="617.5" y="42.5" width="2" height="1" fill="#fff"/>
<line x1="620.5" y1="42" x2="620.5" y2="49"/>
<rect x="619.5" y="44.5" width="2" height="3" fill="#fff"/>
<line x1="623.5" y1="49" x2="623.5" y2="55"/>
<rect x="622.5" y="51.5" width="2" height="1" fill="#000"/>
<line x1="625.5" y1="50" x2="625.5" y2="54"/>
<rect x="624.5" y="51.5" width="2" height="0.01" fill="#000"/>
<line x1="628.5" y1="47" x2="628.5" y2="56"/>
<rect x="627.5" y="48.5" width="2" height="6" fill="#000"/>
<line x1="630.5" y1="47" x2="630.5" y2="56"/>
<rect x="629.5" y="49.5" width="2" height="5" fill="#000"/>
<line x1="633.5" y1="41" x2="633.5" y2="54"/>
<line x1="635.5" y1="47" x2="635.5" y2="53"/>
<rect x="634.5" y="47.5" width="2" height="4" fill="#fff"/>
<line x1="638.5" y1="46" x2="638.5" y2="51"/>
<rect x="637.5" y="47.5" width="2" height="2" fill="#fff"/>
<line x1="639.5" y1="47" x2="639.5" y2="55"/>
<rect x="638.5" y="48.5" width="2" height="0.01" fill="#000"/>
<line x1="642.5" y1="45" x2="642.5" y2="48"/>
<rect x="641.5" y="47.5" width="2" height="0.01" fill="#fff"/>
<line x1="645.5" y1="33" x2="645.5" y2="42"/>
<line x1="646.5" y1="36" x2="646.5" y2="45"/>
<rect x="645.5" y="38.5" width="2" height="5" fill="#fff"/>
</g>
<path d="M5 403.5h1M24 403.5h27M77 403.5h7M100 403.5h15M129 403.5h2M150 403.5h9M173 403.5h4M188 403.5h40M241 403.5h14M273 403.5h29M323 403.5h7M342 403.5h17M370 403.5h18M411 403.5h15M435 403.5h7M457 403.5h69M538 403.5h21M582 403.5h26M617 403.5h9M642 403.5h4M0 513.5h1M9 513.5h12M53 513.5h21M87 513.5h10M118 513.5h7M134 513.5h12M163 513.5h7M180 513.5h5M230 513.5h7M258 513.5h12M305 513.5h14M333 513.5h5M362 513.5h4M391 513.5h17M430 513.5h1M445 513.5h10M533 513.5h2M561 513.5h18M611 513.5h2M630 513.5h9M1.5 484v30M2.5 448v36M3.5 411v37M4.5 403v8M6.5 403v15M7.5 418v50M8.5 468v46M21.5 490v24M22.5 451v39M23.5 411v40M24.5 404v7M50.5 404v15M51.5 419v39M52.5 458v40M53.5 498v15M73.5 499v14M74.5 462v37M75.5 426v36M76.5 403v23M84.5 403v34M85.5 437v43M86.5 480v34M97.5 474v40M98.5 435v39M99.5 403v32M115.5 403v26M116.5 429v42M117.5 471v42M125.5 498v16M126.5 459v39M127.5 419v40M128.5 403v16M131.5 403v32M132.5 435v39M133.5 474v39M146.5 498v16M147.5 459v39M148.5 419v40M149.5 403v16M159.5 403v16M160.5 419v39M161.5 458v40M162.5 498v16M169.5 506v7M170.5 466v40M171.5 427v39M172.5 403v24M177.5 403v26M178.5 429v42M179.5 471v42M185.5 499v15M186.5 462v37M187.5 426v36M188.5 404v22M227.5 404v32M228.5 436v41M229.5 477v37M237.5 498v16M238.5 460v38M239.5 422v38M240.5 403v19M255.5 403v33M256.5 436v41M257.5 477v37M270.5 495v19M271.5 457v38M272.5 419v38M273.5 404v15M302.5 403v32M303.5 435v39M304.5 474v39M319.5 495v19M320.5 457v38M321.5 419v38M322.5 403v16M330.5 403v10M331.5 413v50M332.5 463v50M338.5 499v15M339.5 462v37M340.5 426v36M341.5 403v23M358.5 404v16M359.5 420v43M360.5 463v42M361.5 505v9M366.5 505v9M367.5 465v40M368.5 424v41M369.5 403v21M387.5 404v14M388.5 418v37M389.5 455v36M390.5 491v23M408.5 488v26M409.5 446v42M410.5 404v42M426.5 403v21M427.5 424v41M428.5 465v40M429.5 505v9M431.5 506v8M432.5 466v40M433.5 427v39M434.5 403v24M442.5 403v17M443.5 420v43M444.5 463v42M445.5 505v8M454.5 509v4M455.5 469v40M456.5 428v41M457.5 404v24M525.5 404v20M526.5 424v41M527.5 465v40M528.5 470v44M529.5 415v55M530.5 403v32M531.5 435v39M532.5 474v39M535.5 498v16M536.5 460v38M537.5 422v38M538.5 404v18M558.5 404v15M559.5 419v38M560.5 457v38M561.5 495v18M579.5 486v28M580.5 440v46M581.5 403v37M607.5 404v22M608.5 426v38M609.5 464v38M610.5 502v12M613.5 491v23M614.5 453v38M615.5 415v38M616.5 403v12M626.5 403v17M627.5 420v41M628.5 461v40M629.5 501v13M639.5 476v38M640.5 438v38M641.5 403v35" fill="none" stroke="#0000ff" stroke-width="1" shape-rendering="crispEdges"/>
<path d="M180 534.5h3M552 534.5h5M138 546.5h3M507 546.5h3M17 558.5h6M486 558.5h4M512 558.5h6M616 558.5h5M483 569.5h1M636 569.5h1M66 570.5h6M82 570.5h3M169 570.5h7M491 570.5h14M538 570.5h6M629 570.5h3M636 570.5h6M86 583.5h12M242 583.5h9M444 583.5h4M593 583.5h2M624 583.5h3M2 595.5h2M76 595.5h3M150 595.5h1M191 595.5h2M439 595.5h3M473 595.5h3M608 595.5h5M56 607.5h3M120 607.5h3M260 607.5h4M281 607.5h3M294 607.5h2M414 607.5h3M423 607.5h15M465 607.5h6M564 607.5h3M48 619.5h3M115 619.5h3M196 619.5h5M276 619.5h3M286 619.5h7M344 619.5h2M379 619.5h3M419 619.5h2M38 632.5h2M105 632.5h8M126 632.5h2M208 632.5h7M231 632.5h6M299 632.5h3M307 632.5h6M320 632.5h3M328 632.5h2M354 632.5h4M365 632.5h2M374 632.5h3M572 632.5h5M218 633.5h1M374 633.5h1M387 633.5h1M42 644.5h3M221 644.5h3M390 644.5h3M0.5 583v6M1.5 589v6M4.5 583v13M5.5 567v16M6.5 558v9M7.5 561v6M8.5 567v4M9.5 566v3M10.5 561v5M11.5 557v4M12.5 552v5M13.5 547v5M14.5 546v4M15.5 550v4M16.5 554v4M22.5 559v3M23.5 562v6M24.5 568v7M25.5 575v6M26.5 581v6M27.5 587v6M28.5 593v6M29.5 599v7M30.5 606v5M31.5 611v6M32.5 612v8M33.5 601v12M34.5 595v8M35.5 603v13M36.5 616v13M37.5 629v4M40.5 633v4M41.5 637v4M42.5 641v3M45.5 638v7M46.5 628v10M47.5 619v9M50.5 620v2M51.5 622v5M52.5 627v5M53.5 624v9M54.5 615v9M55.5 607v8M58.5 605v2M59.5 600v5M60.5 595v5M61.5 590v5M62.5 585v5M63.5 580v5M64.5 575v5M65.5 571v4M71.5 571v1M72.5 572v5M73.5 577v6M74.5 583v5M75.5 588v5M76.5 593v2M79.5 588v8M80.5 578v10M81.5 570v8M84.5 571v2M85.5 573v7M86.5 580v3M97.5 584v2M98.5 586v7M99.5 593v6M100.5 599v7M101.5 606v7M102.5 613v6M103.5 619v7M104.5 626v6M112.5 628v4M113.5 624v4M114.5 620v4M117.5 618v1M118.5 614v4M119.5 610v4M120.5 608v2M123.5 607v8M124.5 615v10M125.5 625v8M128.5 626v7M129.5 617v9M130.5 608v9M131.5 600v8M132.5 591v9M133.5 583v8M134.5 574v9M135.5 565v9M136.5 557v8M137.5 548v9M138.5 547v1M141.5 542v5M142.5 537v5M143.5 534v5M144.5 539v10M145.5 549v10M146.5 559v11M147.5 570v11M148.5 581v10M149.5 591v5M151.5 595v5M152.5 600v6M153.5 606v7M154.5 613v7M155.5 620v7M156.5 625v8M157.5 585v40M158.5 546v39M159.5 534v12M160.5 537v4M161.5 541v4M162.5 542v5M163.5 536v6M164.5 534v4M165.5 537v5M166.5 542v6M167.5 548v8M168.5 556v9M169.5 565v5M175.5 565v5M176.5 558v7M177.5 551v7M178.5 543v8M179.5 536v7M180.5 535v1M183.5 534v8M184.5 542v8M185.5 550v7M186.5 557v7M187.5 564v7M188.5 571v10M189.5 581v10M190.5 591v5M193.5 595v9M194.5 604v9M195.5 613v7M201.5 615v4M202.5 610v5M203.5 607v3M204.5 610v5M205.5 615v5M206.5 620v5M207.5 625v5M208.5 630v2M214.5 633v5M215.5 638v6M216.5 639v6M217.5 634v5M218.5 632v1M219.5 633v4M220.5 637v4M221.5 641v3M224.5 638v7M225.5 629v9M226.5 620v9M227.5 619v13M228.5 632v12M229.5 639v6M230.5 634v5M231.5 633v1M237.5 625v8M238.5 615v10M239.5 605v10M240.5 595v10M241.5 585v10M242.5 584v1M250.5 580v3M251.5 575v5M252.5 571v4M253.5 570v5M254.5 575v5M255.5 580v5M256.5 585v5M257.5 590v5M258.5 595v5M259.5 600v5M260.5 605v2M263.5 608v1M264.5 609v3M265.5 612v4M266.5 616v2M267.5 618v2M268.5 614v4M269.5 610v4M270.5 607v4M271.5 611v9M272.5 620v10M273.5 629v4M274.5 625v4M275.5 621v4M276.5 620v1M278.5 618v1M279.5 614v4M280.5 609v5M281.5 608v1M284.5 607v6M285.5 613v5M286.5 617v2M292.5 614v5M293.5 608v6M296.5 607v5M297.5 612v8M298.5 620v9M299.5 629v3M302.5 628v5M303.5 624v4M304.5 620v4M305.5 619v6M306.5 625v5M307.5 630v2M312.5 628v4M313.5 620v8M314.5 612v8M315.5 607v5M316.5 610v5M317.5 615v6M318.5 621v6M319.5 627v5M322.5 630v2M323.5 626v4M324.5 622v4M325.5 619v3M326.5 622v5M327.5 627v5M330.5 628v5M331.5 618v10M332.5 608v10M333.5 607v5M334.5 612v5M335.5 617v4M336.5 621v5M337.5 626v4M338.5 626v7M339.5 613v13M340.5 599v14M341.5 595v8M342.5 603v10M343.5 613v7M346.5 619v5M347.5 624v5M348.5 629v4M349.5 626v5M350.5 621v5M351.5 619v4M352.5 623v4M353.5 627v5M358.5 623v10M359.5 612v11M360.5 600v12M361.5 595v8M362.5 603v12M363.5 615v13M364.5 628v5M367.5 633v2M368.5 635v4M369.5 639v3M370.5 642v3M371.5 640v3M372.5 636v4M373.5 633v3M377.5 627v5M378.5 623v4M379.5 620v3M382.5 619v7M383.5 626v10M384.5 636v9M385.5 638v5M386.5 633v5M387.5 632v1M388.5 634v4M389.5 638v4M390.5 642v2M393.5 638v7M394.5 632v6M395.5 626v6M396.5 620v6M397.5 614v6M398.5 607v7M399.5 601v6M400.5 595v6M401.5 590v5M402.5 584v6M403.5 583v7M404.5 590v7M405.5 597v6M406.5 603v6M407.5 609v7M408.5 607v13M409.5 583v24M410.5 570v13M411.5 576v11M412.5 587v11M413.5 598v10M416.5 608v2M417.5 610v5M418.5 615v4M421.5 616v4M422.5 611v5M423.5 608v3M437.5 603v4M438.5 599v4M439.5 596v3M442.5 591v5M443.5 586v5M444.5 584v2M447.5 584v2M448.5 585v4M449.5 589v4M450.5 593v3M451.5 584v10M452.5 574v10M453.5 564v10M454.5 558v6M455.5 562v8M456.5 570v7M457.5 577v8M458.5 585v8M459.5 593v7M460.5 600v10M461.5 610v15M462.5 625v16M463.5 628v17M464.5 608v20M470.5 605v2M471.5 601v4M472.5 598v4M473.5 596v2M476.5 590v6M477.5 582v8M478.5 573v9M479.5 565v8M480.5 558v7M481.5 560v4M482.5 564v5M483.5 570v1M484.5 565v5M485.5 560v5M486.5 559v1M489.5 559v3M490.5 562v7M491.5 569v1M504.5 562v8M505.5 553v9M506.5 546v7M509.5 547v2M510.5 549v5M511.5 553v4M512.5 557v1M517.5 559v3M518.5 562v5M519.5 567v4M520.5 567v3M521.5 562v5M522.5 557v5M523.5 553v4M524.5 548v5M525.5 546v4M526.5 550v4M527.5 554v5M528.5 552v6M529.5 546v6M530.5 547v5M531.5 552v4M532.5 556v6M533.5 562v8M534.5 570v8M535.5 578v6M536.5 576v5M537.5 571v5M543.5 571v4M544.5 575v11M545.5 586v10M546.5 587v7M547.5 580v7M548.5 570v10M549.5 556v14M550.5 542v14M551.5 534v8M556.5 535v4M557.5 539v10M558.5 549v10M559.5 559v8M560.5 567v10M561.5 577v9M562.5 586v10M563.5 596v10M564.5 606v1M566.5 606v1M567.5 600v6M568.5 595v5M569.5 599v13M570.5 612v12M571.5 624v9M576.5 631v1M577.5 624v7M578.5 618v6M579.5 612v6M580.5 606v6M581.5 600v6M582.5 593v7M583.5 587v6M584.5 583v4M585.5 585v4M586.5 589v5M587.5 590v6M588.5 580v10M589.5 571v9M590.5 570v5M591.5 575v4M592.5 579v5M595.5 578v6M596.5 572v6M597.5 566v6M598.5 560v6M599.5 554v6M600.5 548v6M601.5 542v6M602.5 536v6M603.5 534v4M604.5 537v4M605.5 541v4M606.5 545v24M607.5 569v27M613.5 587v9M614.5 575v12M615.5 562v13M616.5 559v3M620.5 559v2M621.5 561v8M622.5 569v9M623.5 578v6M626.5 581v2M627.5 576v5M628.5 571v5M631.5 568v2M632.5 562v6M633.5 558v4M634.5 560v5M635.5 565v5M641.5 569v1M642.5 555v14M643.5 540v15M644.5 534v8M645.5 542v11M646.5 553v6" fill="none" stroke="#ff0000" stroke-width="1" shape-rendering="crispEdges"/>
<path d="M0 666.5h17M55 666.5h30M17 667.5h7M48 667.5h7M85 667.5h7M23 668.5h7M42 668.5h6M92 668.5h7M30 669.5h12M99 669.5h20M119 670.5h7M126 671.5h3M129 672.5h2M131 673.5h2M133 674.5h2M135 675.5h2M137 676.5h3M140 677.5h3M142 678.5h4M145 679.5h4M149 680.5h4M152 681.5h4M156 682.5h4M160 683.5h3M163 684.5h3M166 685.5h4M170 686.5h2M172 687.5h2M174 688.5h2M176 689.5h3M264 689.5h27M179 690.5h2M249 690.5h15M291 690.5h8M181 691.5h2M238 691.5h11M299 691.5h5M183 692.5h2M228 692.5h10M304 692.5h5M184 693.5h4M219 693.5h9M308 693.5h5M188 694.5h32M312 694.5h5M317 695.5h5M322 696.5h7M329 697.5h8M337 698.5h9M346 699.5h11M507 699.5h43M357 700.5h14M500 700.5h8M550 700.5h12M371 701.5h18M494 701.5h6M562 701.5h9M389 702.5h13M489 702.5h5M571 702.5h8M402 703.5h8M485 703.5h5M579 703.5h9M410 704.5h7M481 704.5h5M587 704.5h9M417 705.5h7M477 705.5h4M595 705.5h9M424 706.5h11M472 706.5h5M604 706.5h27M434 707.5h38M631 707.5h14M645 708.5h2" fill="none" stroke="#ff0000" stroke-width="1" shape-rendering="crispEdges"/>
<path d="M62 711.5h3M56 712.5h6M65 712.5h16M51 713.5h5M80 713.5h15M47 714.5h4M95 714.5h38M41 715.5h6M132 715.5h9M35 716.5h7M140 716.5h7M266 716.5h43M26 717.5h9M147 717.5h6M257 717.5h9M308 717.5h8M16 718.5h10M153 718.5h6M251 718.5h7M316 718.5h7M9 719.5h7M159 719.5h5M245 719.5h6M323 719.5h6M3 720.5h6M164 720.5h4M239 720.5h6M329 720.5h4M520 720.5h42M0 721.5h3M168 721.5h4M233 721.5h7M333 721.5h6M513 721.5h8M562 721.5h11M172 722.5h4M227 722.5h6M339 722.5h8M509 722.5h4M573 722.5h7M176 723.5h4M220 723.5h7M346 723.5h11M505 723.5h4M580 723.5h6M179 724.5h5M211 724.5h9M356 724.5h13M501 724.5h5M586 724.5h7M184 725.5h28M369 725.5h16M496 725.5h5M593 725.5h13M384 726.5h11M490 726.5h6M606 726.5h19M395 727.5h8M485 727.5h6M625 727.5h21M403 728.5h8M477 728.5h8M411 729.5h66M0.5 722v1" fill="none" stroke="#ff0000" stroke-width="1" shape-rendering="crispEdges"/>
<path d="M286 741.5h36M524 741.5h46M272 742.5h15M321 742.5h6M519 742.5h5M569 742.5h7M266 743.5h6M327 743.5h5M515 743.5h5M576 743.5h7M263 744.5h3M332 744.5h4M511 744.5h4M583 744.5h10M259 745.5h4M336 745.5h5M507 745.5h4M592 745.5h47M255 746.5h4M341 746.5h6M503 746.5h4M639 746.5h7M251 747.5h4M347 747.5h7M499 747.5h4M247 748.5h5M354 748.5h7M493 748.5h6M243 749.5h4M361 749.5h11M488 749.5h5M240 750.5h3M371 750.5h11M482 750.5h6M236 751.5h4M382 751.5h10M475 751.5h7M231 752.5h5M392 752.5h12M426 752.5h25M467 752.5h8M225 753.5h7M404 753.5h23M451 753.5h16M137 754.5h17M217 754.5h8M132 755.5h5M153 755.5h11M207 755.5h10M62 756.5h13M129 756.5h4M164 756.5h43M56 757.5h6M75 757.5h11M124 757.5h5M54 758.5h3M86 758.5h8M119 758.5h6M51 759.5h3M94 759.5h25M49 760.5h2M47 761.5h2M44 762.5h3M42 763.5h2M38 764.5h4M34 765.5h4M30 766.5h4M27 767.5h3M24 768.5h3M21 769.5h3M19 770.5h2M16 771.5h3M14 772.5h2M11 773.5h3M9 774.5h2M6 775.5h3M3 776.5h4M1 777.5h2M0 778.5h2" fill="none" stroke="#ff0000" stroke-width="1" shape-rendering="crispEdges"/>
<path d="M1 686.5h3M46 686.5h6M0 687.5h2M3 687.5h3M44 687.5h2M52 687.5h3M43 688.5h1M55 688.5h1M6 689.5h1M42 689.5h1M56 689.5h1M7 691.5h2M40 691.5h2M57 691.5h2M8 692.5h2M39 693.5h1M38 694.5h1M251 694.5h5M249 695.5h2M256 695.5h2M11 696.5h1M247 696.5h2M257 696.5h2M61 697.5h1M246 697.5h1M258 697.5h2M35 698.5h2M245 698.5h1M260 698.5h2M13 699.5h1M262 699.5h1M493 699.5h4M243 700.5h2M263 700.5h1M489 700.5h4M496 700.5h4M14 701.5h2M33 701.5h2M264 701.5h1M487 701.5h2M500 701.5h2M265 702.5h2M485 702.5h2M502 702.5h3M16 703.5h1M31 703.5h2M64 703.5h1M267 703.5h1M484 703.5h1M505 703.5h8M30 704.5h1M268 704.5h2M483 704.5h1M513 704.5h2M17 705.5h2M29 705.5h1M66 705.5h1M223 705.5h7M240 705.5h2M269 705.5h2M482 705.5h1M515 705.5h1M18 706.5h2M28 706.5h1M221 706.5h3M230 706.5h2M239 706.5h2M271 706.5h2M481 706.5h1M516 706.5h2M20 707.5h1M26 707.5h2M220 707.5h1M232 707.5h8M272 707.5h3M479 707.5h2M518 707.5h2M21 708.5h1M24 708.5h2M218 708.5h2M274 708.5h2M519 708.5h2M22 709.5h2M68 709.5h1M276 709.5h2M478 709.5h1M521 709.5h1M216 710.5h2M278 710.5h1M477 710.5h1M522 710.5h2M69 711.5h2M214 711.5h3M279 711.5h2M524 711.5h2M213 712.5h2M281 712.5h1M475 712.5h2M525 712.5h2M71 713.5h1M212 713.5h2M282 713.5h1M474 713.5h2M527 713.5h2M72 714.5h1M211 714.5h2M283 714.5h1M473 714.5h2M528 714.5h2M73 715.5h2M111 715.5h15M210 715.5h2M284 715.5h1M529 715.5h3M75 716.5h3M109 716.5h2M125 716.5h4M209 716.5h2M285 716.5h3M472 716.5h1M531 716.5h2M77 717.5h3M108 717.5h2M129 717.5h2M208 717.5h2M287 717.5h12M471 717.5h1M533 717.5h2M80 718.5h2M108 718.5h1M207 718.5h2M299 718.5h2M470 718.5h1M535 718.5h2M82 719.5h2M131 719.5h2M206 719.5h2M300 719.5h2M469 719.5h1M537 719.5h1M83 720.5h2M106 720.5h1M205 720.5h2M538 720.5h1M84 721.5h2M105 721.5h2M467 721.5h2M539 721.5h2M86 722.5h1M204 722.5h1M302 722.5h2M466 722.5h2M541 722.5h1M87 723.5h2M104 723.5h1M134 723.5h1M203 723.5h1M542 723.5h1M552 723.5h5M89 724.5h1M103 724.5h1M202 724.5h1M304 724.5h1M465 724.5h1M543 724.5h1M551 724.5h1M556 724.5h2M90 725.5h1M102 725.5h1M201 725.5h1M305 725.5h1M544 725.5h2M550 725.5h1M558 725.5h1M91 726.5h2M101 726.5h1M200 726.5h1M546 726.5h4M92 727.5h2M99 727.5h2M306 727.5h1M559 727.5h2M94 728.5h2M98 728.5h2M198 728.5h2M561 728.5h1M95 729.5h3M308 729.5h1M385 729.5h7M562 729.5h2M197 730.5h1M382 730.5h3M392 730.5h2M564 730.5h1M309 731.5h1M380 731.5h2M393 731.5h2M565 731.5h1M378 732.5h2M566 732.5h2M310 733.5h2M376 733.5h3M395 733.5h1M429 733.5h18M567 733.5h2M138 734.5h1M155 734.5h2M194 734.5h2M311 734.5h2M375 734.5h1M425 734.5h4M446 734.5h3M460 734.5h1M569 734.5h2M312 735.5h2M373 735.5h2M422 735.5h3M449 735.5h2M459 735.5h1M571 735.5h1M157 736.5h2M193 736.5h1M313 736.5h2M371 736.5h2M397 736.5h1M421 736.5h1M451 736.5h2M457 736.5h2M572 736.5h1M597 736.5h1M140 737.5h1M153 737.5h1M369 737.5h2M419 737.5h2M453 737.5h4M573 737.5h1M592 737.5h5M191 738.5h2M315 738.5h1M325 738.5h4M351 738.5h9M368 738.5h2M398 738.5h2M418 738.5h1M574 738.5h2M585 738.5h7M151 739.5h2M316 739.5h1M324 739.5h1M329 739.5h1M347 739.5h5M360 739.5h8M416 739.5h2M576 739.5h1M582 739.5h3M317 740.5h1M323 740.5h1M330 740.5h1M345 740.5h2M400 740.5h1M415 740.5h1M577 740.5h5M142 741.5h1M318 741.5h1M322 741.5h1M331 741.5h2M342 741.5h3M413 741.5h2M149 742.5h2M319 742.5h3M333 742.5h10M401 742.5h2M411 742.5h2M143 743.5h2M148 743.5h2M402 743.5h3M409 743.5h2M144 744.5h5M188 744.5h1M404 744.5h5M174 745.5h2M172 746.5h2M175 746.5h2M163 747.5h1M170 747.5h2M177 747.5h1M164 748.5h1M168 748.5h2M178 748.5h1M165 749.5h3M179 749.5h1M180 750.5h2M184 750.5h2M182 751.5h3M5.5 688v1M7.5 690v1M9.5 693v1M10.5 694v2M12.5 697v2M14.5 700v1M15.5 702v1M17.5 704v1M32.5 702v1M34.5 700v1M35.5 699v1M36.5 697v1M37.5 695v2M40.5 692v1M41.5 690v1M57.5 690v1M58.5 692v1M59.5 693v2M60.5 695v2M62.5 698v2M63.5 700v2M64.5 702v1M65.5 703v3M66.5 706v1M67.5 707v2M69.5 710v1M70.5 712v1M105.5 722v1M107.5 718v3M131.5 718v1M132.5 720v1M133.5 721v3M134.5 724v1M135.5 725v3M136.5 728v3M137.5 731v3M139.5 735v3M140.5 738v1M141.5 739v2M143.5 742v1M146.5 745v1M150.5 741v1M151.5 740v1M152.5 738v1M154.5 735v2M157.5 735v1M158.5 737v1M159.5 738v3M160.5 741v2M161.5 743v2M162.5 745v2M185.5 749v1M186.5 747v2M187.5 745v2M189.5 742v2M190.5 740v2M191.5 739v1M192.5 737v1M194.5 735v1M195.5 733v1M196.5 731v2M198.5 729v1M199.5 727v1M205.5 721v1M217.5 709v1M241.5 704v1M242.5 702v2M243.5 701v1M244.5 699v1M301.5 720v1M302.5 721v1M303.5 723v1M306.5 726v1M307.5 727v3M308.5 730v1M310.5 732v1M314.5 737v1M394.5 732v1M396.5 734v2M398.5 737v1M399.5 739v1M401.5 741v1M455.5 738v1M461.5 732v2M462.5 729v3M463.5 727v3M464.5 725v3M466.5 723v1M468.5 720v1M473.5 715v1M476.5 711v1M479.5 708v1M559.5 726v1" fill="none" stroke="#0000ff" stroke-width="1" shape-rendering="crispEdges"/>
<path d="M1 684.5h3M46 684.5h6M0 685.5h2M3 685.5h3M44 685.5h2M52 685.5h3M43 686.5h1M55 686.5h1M6 687.5h1M42 687.5h1M56 687.5h1M7 689.5h2M40 689.5h2M57 689.5h2M8 690.5h2M39 691.5h1M38 692.5h1M251 693.5h5M11 694.5h1M249 694.5h2M256 694.5h1M61 695.5h1M247 695.5h2M257 695.5h2M35 696.5h2M246 696.5h1M258 696.5h2M13 697.5h1M245 697.5h1M260 697.5h1M261 698.5h2M14 699.5h2M33 699.5h2M262 699.5h2M490 699.5h10M243 700.5h1M264 700.5h1M487 700.5h3M500 700.5h1M16 701.5h1M31 701.5h2M64 701.5h1M265 701.5h1M485 701.5h2M501 701.5h3M30 702.5h1M266 702.5h2M484 702.5h1M504 702.5h8M17 703.5h2M29 703.5h1M66 703.5h1M268 703.5h2M483 703.5h1M512 703.5h3M18 704.5h2M28 704.5h1M223 704.5h6M240 704.5h2M269 704.5h2M482 704.5h1M515 704.5h1M20 705.5h1M26 705.5h2M222 705.5h2M229 705.5h2M271 705.5h2M516 705.5h2M21 706.5h1M24 706.5h2M220 706.5h2M231 706.5h4M237 706.5h3M272 706.5h2M480 706.5h2M518 706.5h2M22 707.5h2M68 707.5h1M218 707.5h2M235 707.5h3M274 707.5h2M479 707.5h1M519 707.5h2M276 708.5h1M478 708.5h1M521 708.5h1M69 709.5h2M216 709.5h2M277 709.5h2M522 709.5h2M215 710.5h2M279 710.5h2M476 710.5h2M524 710.5h1M71 711.5h1M214 711.5h1M280 711.5h2M475 711.5h2M525 711.5h2M72 712.5h1M213 712.5h1M282 712.5h1M474 712.5h2M526 712.5h2M73 713.5h2M111 713.5h14M212 713.5h1M283 713.5h1M528 713.5h2M75 714.5h3M109 714.5h2M124 714.5h5M211 714.5h1M284 714.5h1M473 714.5h1M529 714.5h2M77 715.5h3M108 715.5h2M129 715.5h2M210 715.5h1M285 715.5h2M472 715.5h1M531 715.5h2M80 716.5h2M108 716.5h1M130 716.5h2M208 716.5h2M287 716.5h12M471 716.5h1M532 716.5h3M82 717.5h2M298 717.5h3M470 717.5h1M535 717.5h2M83 718.5h2M106 718.5h1M132 718.5h1M207 718.5h1M300 718.5h1M84 719.5h2M105 719.5h2M206 719.5h1M468 719.5h2M537 719.5h2M86 720.5h1M205 720.5h1M302 720.5h1M467 720.5h2M539 720.5h2M87 721.5h2M104 721.5h1M204 721.5h1M466 721.5h2M541 721.5h1M89 722.5h1M103 722.5h1M134 722.5h1M203 722.5h1M303 722.5h1M542 722.5h1M552 722.5h5M90 723.5h1M102 723.5h1M202 723.5h1M543 723.5h1M91 724.5h2M101 724.5h1M304 724.5h2M465 724.5h1M544 724.5h1M550 724.5h2M557 724.5h2M92 725.5h2M99 725.5h2M200 725.5h2M305 725.5h2M545 725.5h5M558 725.5h2M94 726.5h2M98 726.5h2M199 726.5h2M559 726.5h2M95 727.5h3M561 727.5h1M198 728.5h1M385 728.5h7M562 728.5h1M197 729.5h1M308 729.5h1M382 729.5h4M392 729.5h2M563 729.5h2M309 730.5h1M380 730.5h3M564 730.5h2M618 730.5h8M379 731.5h2M394 731.5h1M566 731.5h1M617 731.5h2M626 731.5h3M310 732.5h2M377 732.5h2M430 732.5h16M567 732.5h2M602 732.5h7M616 732.5h2M628 732.5h5M138 733.5h1M155 733.5h2M194 733.5h2M311 733.5h2M375 733.5h2M395 733.5h2M425 733.5h6M446 733.5h3M460 733.5h1M568 733.5h2M601 733.5h2M609 733.5h2M615 733.5h1M633 733.5h5M645 733.5h1M157 734.5h1M373 734.5h2M423 734.5h3M449 734.5h2M459 734.5h1M570 734.5h2M599 734.5h3M611 734.5h4M637 734.5h8M153 735.5h2M193 735.5h1M313 735.5h1M371 735.5h3M397 735.5h1M421 735.5h2M451 735.5h1M458 735.5h1M572 735.5h1M597 735.5h2M314 736.5h1M370 736.5h1M419 736.5h2M452 736.5h2M456 736.5h2M573 736.5h1M594 736.5h3M140 737.5h2M152 737.5h1M191 737.5h2M315 737.5h1M325 737.5h3M353 737.5h7M369 737.5h1M398 737.5h2M418 737.5h1M454 737.5h2M574 737.5h1M585 737.5h9M316 738.5h1M328 738.5h1M348 738.5h5M360 738.5h4M365 738.5h4M416 738.5h2M575 738.5h2M582 738.5h4M150 739.5h2M317 739.5h1M323 739.5h2M329 739.5h2M345 739.5h3M364 739.5h1M415 739.5h1M577 739.5h6M142 740.5h2M318 740.5h1M322 740.5h2M331 740.5h1M343 740.5h2M400 740.5h2M413 740.5h2M149 741.5h1M319 741.5h4M332 741.5h11M412 741.5h1M144 742.5h2M148 742.5h1M402 742.5h2M409 742.5h3M146 743.5h2M161 743.5h2M404 743.5h6M174 744.5h2M187 744.5h2M171 745.5h3M175 745.5h2M169 746.5h2M177 746.5h1M164 747.5h2M167 747.5h3M178 747.5h1M166 748.5h1M179 748.5h1M185 748.5h1M180 749.5h2M182 750.5h3M5.5 686v1M7.5 688v1M9.5 691v1M10.5 692v2M12.5 695v2M14.5 698v1M15.5 700v1M17.5 702v1M32.5 700v1M34.5 698v1M35.5 697v1M36.5 695v1M37.5 693v2M40.5 690v1M41.5 688v1M57.5 688v1M58.5 690v1M59.5 691v2M60.5 693v2M62.5 696v2M63.5 698v2M64.5 700v1M65.5 701v3M66.5 704v1M67.5 705v2M69.5 708v1M70.5 710v1M105.5 720v1M107.5 716v3M131.5 717v1M133.5 719v3M135.5 723v4M136.5 726v3M137.5 729v3M138.5 732v1M139.5 733v3M140.5 736v1M141.5 738v1M142.5 739v1M143.5 741v1M150.5 740v1M151.5 738v1M153.5 736v1M154.5 734v1M158.5 735v2M159.5 737v2M160.5 739v3M161.5 742v1M162.5 744v1M163.5 745v2M184.5 749v1M186.5 746v2M187.5 745v1M188.5 743v1M189.5 741v2M190.5 739v2M191.5 738v1M192.5 736v1M194.5 734v1M195.5 732v1M196.5 730v2M199.5 727v1M201.5 724v1M208.5 717v1M217.5 708v1M240.5 705v1M241.5 703v1M242.5 701v2M244.5 698v2M301.5 718v3M302.5 721v1M304.5 723v1M306.5 726v1M307.5 727v2M310.5 731v1M312.5 734v1M324.5 738v1M393.5 730v1M395.5 732v1M396.5 734v1M398.5 736v1M399.5 738v1M400.5 739v1M401.5 741v1M461.5 731v2M462.5 729v2M463.5 727v2M464.5 724v3M465.5 723v1M466.5 722v1M469.5 718v1M474.5 713v1M477.5 709v1M481.5 705v1M537.5 718v1M551.5 723v1M556.5 723v1M605.5 731v1" fill="none" stroke="#000000" stroke-width="1" shape-rendering="crispEdges"/>
<rect x="310" y="25" width="44" height="23" fill="#fff"/>
<text x="311.5" y="43" font-family='"Liberation Sans", Arial, sans-serif' font-size="19.6px" fill="#000" textLength="39" lengthAdjust="spacingAndGlyphs">DAX</text>
<text x="15.8" y="40" font-family='"Liberation Sans", Arial, sans-serif' font-size="14px" fill="#8a8a8a" textLength="123" lengthAdjust="spacing">www.chartbuero.de</text>
<rect x="211" y="455" width="89" height="14" fill="#fff"/>
<text x="211" y="466" font-family='"Liberation Sans", Arial, sans-serif' font-size="11px" fill="#0000ff" textLength="88" lengthAdjust="spacing">Stochastik Digital</text>
<rect x="258" y="546" width="106" height="16" fill="#fff"/>
<text x="258.5" y="558" font-family='"Liberation Sans", Arial, sans-serif' font-size="11px" fill="#ff0000" textLength="104.5" lengthAdjust="spacing">Trendstärkeindikator</text>
<rect x="350" y="663" width="74" height="15" fill="#fff"/>
<text x="350.5" y="675" font-family='"Liberation Sans", Arial, sans-serif' font-size="11px" fill="#0000ff" textLength="72.5" lengthAdjust="spacing">Trendindikator</text>
<g class="axes" stroke="#000" stroke-width="1" shape-rendering="crispEdges" fill="none">
<line x1="677.5" y1="0" x2="677.5" y2="790"/>
<line x1="0" y1="789.5" x2="678" y2="789.5"/>
<line x1="0" y1="655.5" x2="678" y2="655.5"/>
<line x1="677" y1="47.5" x2="685" y2="47.5"/>
<line x1="677" y1="98.5" x2="685" y2="98.5"/>
<line x1="677" y1="150.5" x2="685" y2="150.5"/>
<line x1="677" y1="206.5" x2="685" y2="206.5"/>
<line x1="677" y1="263.5" x2="685" y2="263.5"/>
<line x1="677" y1="324.5" x2="685" y2="324.5"/>
<line x1="677" y1="387.5" x2="685" y2="387.5"/>
<line x1="677" y1="8.5" x2="681" y2="8.5"/>
<line x1="677" y1="18.5" x2="681" y2="18.5"/>
<line x1="677" y1="28.5" x2="681" y2="28.5"/>
<line x1="677" y1="38.5" x2="681" y2="38.5"/>
<line x1="677" y1="57.5" x2="681" y2="57.5"/>
<line x1="677" y1="67.5" x2="681" y2="67.5"/>
<line x1="677" y1="77.5" x2="681" y2="77.5"/>
<line x1="677" y1="88.5" x2="681" y2="88.5"/>
<line x1="677" y1="108.5" x2="681" y2="108.5"/>
<line x1="677" y1="118.5" x2="681" y2="118.5"/>
<line x1="677" y1="129.5" x2="681" y2="129.5"/>
<line x1="677" y1="139.5" x2="681" y2="139.5"/>
<line x1="677" y1="161.5" x2="681" y2="161.5"/>
<line x1="677" y1="172.5" x2="681" y2="172.5"/>
<line x1="677" y1="183.5" x2="681" y2="183.5"/>
<line x1="677" y1="195.5" x2="681" y2="195.5"/>
<line x1="677" y1="217.5" x2="681" y2="217.5"/>
<line x1="677" y1="228.5" x2="681" y2="228.5"/>
<line x1="677" y1="240.5" x2="681" y2="240.5"/>
<line x1="677" y1="251.5" x2="681" y2="251.5"/>
<line x1="677" y1="275.5" x2="681" y2="275.5"/>
<line x1="677" y1="287.5" x2="681" y2="287.5"/>
<line x1="677" y1="299.5" x2="681" y2="299.5"/>
<line x1="677" y1="312.5" x2="681" y2="312.5"/>
<line x1="677" y1="337.5" x2="681" y2="337.5"/>
<line x1="677" y1="349.5" x2="681" y2="349.5"/>
<line x1="677" y1="361.5" x2="681" y2="361.5"/>
<line x1="677" y1="374.5" x2="681" y2="374.5"/>
<line x1="677" y1="403.5" x2="685" y2="403.5"/>
<line x1="677" y1="414.5" x2="681" y2="414.5"/>
<line x1="677" y1="425.5" x2="681" y2="425.5"/>
<line x1="677" y1="436.5" x2="681" y2="436.5"/>
<line x1="677" y1="447.5" x2="681" y2="447.5"/>
<line x1="677" y1="458.5" x2="685" y2="458.5"/>
<line x1="677" y1="468.5" x2="681" y2="468.5"/>
<line x1="677" y1="480.5" x2="681" y2="480.5"/>
<line x1="677" y1="491.5" x2="681" y2="491.5"/>
<line x1="677" y1="502.5" x2="681" y2="502.5"/>
<line x1="677" y1="513.5" x2="685" y2="513.5"/>
<line x1="677" y1="524.5" x2="681" y2="524.5"/>
<line x1="677" y1="534.5" x2="685" y2="534.5"/>
<line x1="677" y1="546.5" x2="685" y2="546.5"/>
<line x1="677" y1="558.5" x2="685" y2="558.5"/>
<line x1="677" y1="571.5" x2="685" y2="571.5"/>
<line x1="677" y1="583.5" x2="685" y2="583.5"/>
<line x1="677" y1="595.5" x2="685" y2="595.5"/>
<line x1="677" y1="607.5" x2="685" y2="607.5"/>
<line x1="677" y1="620.5" x2="685" y2="620.5"/>
<line x1="677" y1="632.5" x2="685" y2="632.5"/>
<line x1="677" y1="644.5" x2="685" y2="644.5"/>
<line x1="677" y1="527.5" x2="681" y2="527.5"/>
<line x1="677" y1="539.5" x2="681" y2="539.5"/>
<line x1="677" y1="552.5" x2="681" y2="552.5"/>
<line x1="677" y1="564.5" x2="681" y2="564.5"/>
<line x1="677" y1="576.5" x2="681" y2="576.5"/>
<line x1="677" y1="589.5" x2="681" y2="589.5"/>
<line x1="677" y1="601.5" x2="681" y2="601.5"/>
<line x1="677" y1="614.5" x2="681" y2="614.5"/>
<line x1="677" y1="626.5" x2="681" y2="626.5"/>
<line x1="677" y1="638.5" x2="681" y2="638.5"/>
<line x1="677" y1="650.5" x2="681" y2="650.5"/>
<line x1="677" y1="689.5" x2="685" y2="689.5"/>
<line x1="677" y1="727.5" x2="685" y2="727.5"/>
<line x1="677" y1="765.5" x2="685" y2="765.5"/>
<line x1="677" y1="658.5" x2="681" y2="658.5"/>
<line x1="677" y1="666.5" x2="681" y2="666.5"/>
<line x1="677" y1="673.5" x2="681" y2="673.5"/>
<line x1="677" y1="682.5" x2="681" y2="682.5"/>
<line x1="677" y1="696.5" x2="681" y2="696.5"/>
<line x1="677" y1="704.5" x2="681" y2="704.5"/>
<line x1="677" y1="711.5" x2="681" y2="711.5"/>
<line x1="677" y1="719.5" x2="681" y2="719.5"/>
<line x1="677" y1="734.5" x2="681" y2="734.5"/>
<line x1="677" y1="741.5" x2="681" y2="741.5"/>
<line x1="677" y1="749.5" x2="681" y2="749.5"/>
<line x1="677" y1="757.5" x2="681" y2="757.5"/>
<line x1="677" y1="772.5" x2="681" y2="772.5"/>
<line x1="677" y1="779.5" x2="681" y2="779.5"/>
<line x1="677" y1="787.5" x2="681" y2="787.5"/>
<line x1="6.5" y1="789" x2="6.5" y2="807"/>
<line x1="60.5" y1="789" x2="60.5" y2="807"/>
<line x1="115.5" y1="789" x2="115.5" y2="807"/>
<line x1="172.5" y1="789" x2="172.5" y2="807"/>
<line x1="227.5" y1="789" x2="227.5" y2="807"/>
<line x1="286.5" y1="789" x2="286.5" y2="807"/>
<line x1="343.5" y1="789" x2="343.5" y2="807"/>
<line x1="395.5" y1="789" x2="395.5" y2="807"/>
<line x1="452.5" y1="789" x2="452.5" y2="807"/>
<line x1="506.5" y1="789" x2="506.5" y2="807"/>
<line x1="564.5" y1="789" x2="564.5" y2="807"/>
<line x1="616.5" y1="789" x2="616.5" y2="807"/>
<line x1="675.5" y1="789" x2="675.5" y2="807"/>
<line x1="8.5" y1="789" x2="8.5" y2="795"/>
<line x1="21.5" y1="789" x2="21.5" y2="795"/>
<line x1="34.5" y1="789" x2="34.5" y2="795"/>
<line x1="47.5" y1="789" x2="47.5" y2="795"/>
<line x1="73.5" y1="789" x2="73.5" y2="795"/>
<line x1="86.5" y1="789" x2="86.5" y2="795"/>
<line x1="97.5" y1="789" x2="97.5" y2="795"/>
<line x1="110.5" y1="789" x2="110.5" y2="795"/>
<line x1="123.5" y1="789" x2="123.5" y2="795"/>
<line x1="136.5" y1="789" x2="136.5" y2="795"/>
<line x1="149.5" y1="789" x2="149.5" y2="795"/>
<line x1="162.5" y1="789" x2="162.5" y2="795"/>
<line x1="175.5" y1="789" x2="175.5" y2="795"/>
<line x1="188.5" y1="789" x2="188.5" y2="795"/>
<line x1="201.5" y1="789" x2="201.5" y2="795"/>
<line x1="214.5" y1="789" x2="214.5" y2="795"/>
<line x1="240.5" y1="789" x2="240.5" y2="795"/>
<line x1="253.5" y1="789" x2="253.5" y2="795"/>
<line x1="266.5" y1="789" x2="266.5" y2="795"/>
<line x1="279.5" y1="789" x2="279.5" y2="795"/>
<line x1="292.5" y1="789" x2="292.5" y2="795"/>
<line x1="305.5" y1="789" x2="305.5" y2="795"/>
<line x1="318.5" y1="789" x2="318.5" y2="795"/>
<line x1="331.5" y1="789" x2="331.5" y2="795"/>
<line x1="354.5" y1="789" x2="354.5" y2="795"/>
<line x1="367.5" y1="789" x2="367.5" y2="795"/>
<line x1="380.5" y1="789" x2="380.5" y2="795"/>
<line x1="393.5" y1="789" x2="393.5" y2="795"/>
<line x1="406.5" y1="789" x2="406.5" y2="795"/>
<line x1="419.5" y1="789" x2="419.5" y2="795"/>
<line x1="432.5" y1="789" x2="432.5" y2="795"/>
<line x1="445.5" y1="789" x2="445.5" y2="795"/>
<line x1="457.5" y1="789" x2="457.5" y2="795"/>
<line x1="470.5" y1="789" x2="470.5" y2="795"/>
<line x1="484.5" y1="789" x2="484.5" y2="795"/>
<line x1="497.5" y1="789" x2="497.5" y2="795"/>
<line x1="520.5" y1="789" x2="520.5" y2="795"/>
<line x1="532.5" y1="789" x2="532.5" y2="795"/>
<line x1="546.5" y1="789" x2="546.5" y2="795"/>
<line x1="559.5" y1="789" x2="559.5" y2="795"/>
<line x1="571.5" y1="789" x2="571.5" y2="795"/>
<line x1="585.5" y1="789" x2="585.5" y2="795"/>
<line x1="598.5" y1="789" x2="598.5" y2="795"/>
<line x1="612.5" y1="789" x2="612.5" y2="795"/>
<line x1="625.5" y1="789" x2="625.5" y2="795"/>
<line x1="637.5" y1="789" x2="637.5" y2="795"/>
<line x1="649.5" y1="789" x2="649.5" y2="795"/>
<line x1="662.5" y1="789" x2="662.5" y2="795"/>
</g>
<g class="labels" font-family='"Liberation Sans", Arial, sans-serif' fill="#000">
<text transform="translate(720.6,54) scale(0.92,1)" x="0" y="0" font-size="12px" letter-spacing="0.3" text-anchor="end">12000</text>
<text transform="translate(720.6,104) scale(0.92,1)" x="0" y="0" font-size="12px" letter-spacing="0.3" text-anchor="end">11500</text>
<text transform="translate(720.6,157) scale(0.92,1)" x="0" y="0" font-size="12px" letter-spacing="0.3" text-anchor="end">11000</text>
<text transform="translate(720.6,212) scale(0.92,1)" x="0" y="0" font-size="12px" letter-spacing="0.3" text-anchor="end">10500</text>
<text transform="translate(720.6,269) scale(0.92,1)" x="0" y="0" font-size="12px" letter-spacing="0.3" text-anchor="end">10000</text>
<text transform="translate(720.6,330) scale(0.92,1)" x="0" y="0" font-size="12px" letter-spacing="0.3" text-anchor="end">9500</text>
<text x="718.6" y="409" font-size="11px" text-anchor="end">1.0</text>
<text x="718.6" y="464" font-size="11px" text-anchor="end">0.5</text>
<text x="718.6" y="518" font-size="11px" text-anchor="end">0.0</text>
<text x="718.6" y="649" font-size="11px" text-anchor="end">0</text>
<text x="718.6" y="637" font-size="11px" text-anchor="end">1</text>
<text x="718.6" y="625" font-size="11px" text-anchor="end">2</text>
<text x="718.6" y="612" font-size="11px" text-anchor="end">3</text>
<text x="718.6" y="600" font-size="11px" text-anchor="end">4</text>
<text x="718.6" y="588" font-size="11px" text-anchor="end">5</text>
<text x="718.6" y="576" font-size="11px" text-anchor="end">6</text>
<text x="718.6" y="563" font-size="11px" text-anchor="end">7</text>
<text x="718.6" y="551" font-size="11px" text-anchor="end">8</text>
<text x="718.6" y="539" font-size="11px" text-anchor="end">9</text>
<text x="719.5" y="694" font-size="11px" text-anchor="end">500</text>
<text x="718.6" y="732" font-size="11px" text-anchor="end">0</text>
<text x="719.5" y="770" font-size="11px" text-anchor="end">-500</text>
<text x="8" y="805" font-size="11px" textLength="21.4" lengthAdjust="spacing">April</text>
<text x="62" y="805" font-size="11px" textLength="20.5" lengthAdjust="spacing">May</text>
<text x="116.8" y="805" font-size="11px" textLength="23.5" lengthAdjust="spacing">June</text>
<text x="174" y="805" font-size="11px" textLength="20.4" lengthAdjust="spacing">July</text>
<text x="228.6" y="805" font-size="11px" textLength="34.8" lengthAdjust="spacing">August</text>
<text x="287.4" y="805" font-size="11px" textLength="56" lengthAdjust="spacing">September</text>
<text x="396.8" y="805" font-size="11px" textLength="54.8" lengthAdjust="spacing">November</text>
<text x="453.6" y="805" font-size="11px" textLength="53.4" lengthAdjust="spacing">December</text>
<text x="507.8" y="805" font-size="11px" textLength="25.8" lengthAdjust="spacing">2017</text>
<text x="565.6" y="805" font-size="11px" textLength="44.6" lengthAdjust="spacing">February</text>
<text x="617.4" y="805" font-size="11px" textLength="30.2" lengthAdjust="spacing">March</text>
</g>
</svg>
</body>
</html>
